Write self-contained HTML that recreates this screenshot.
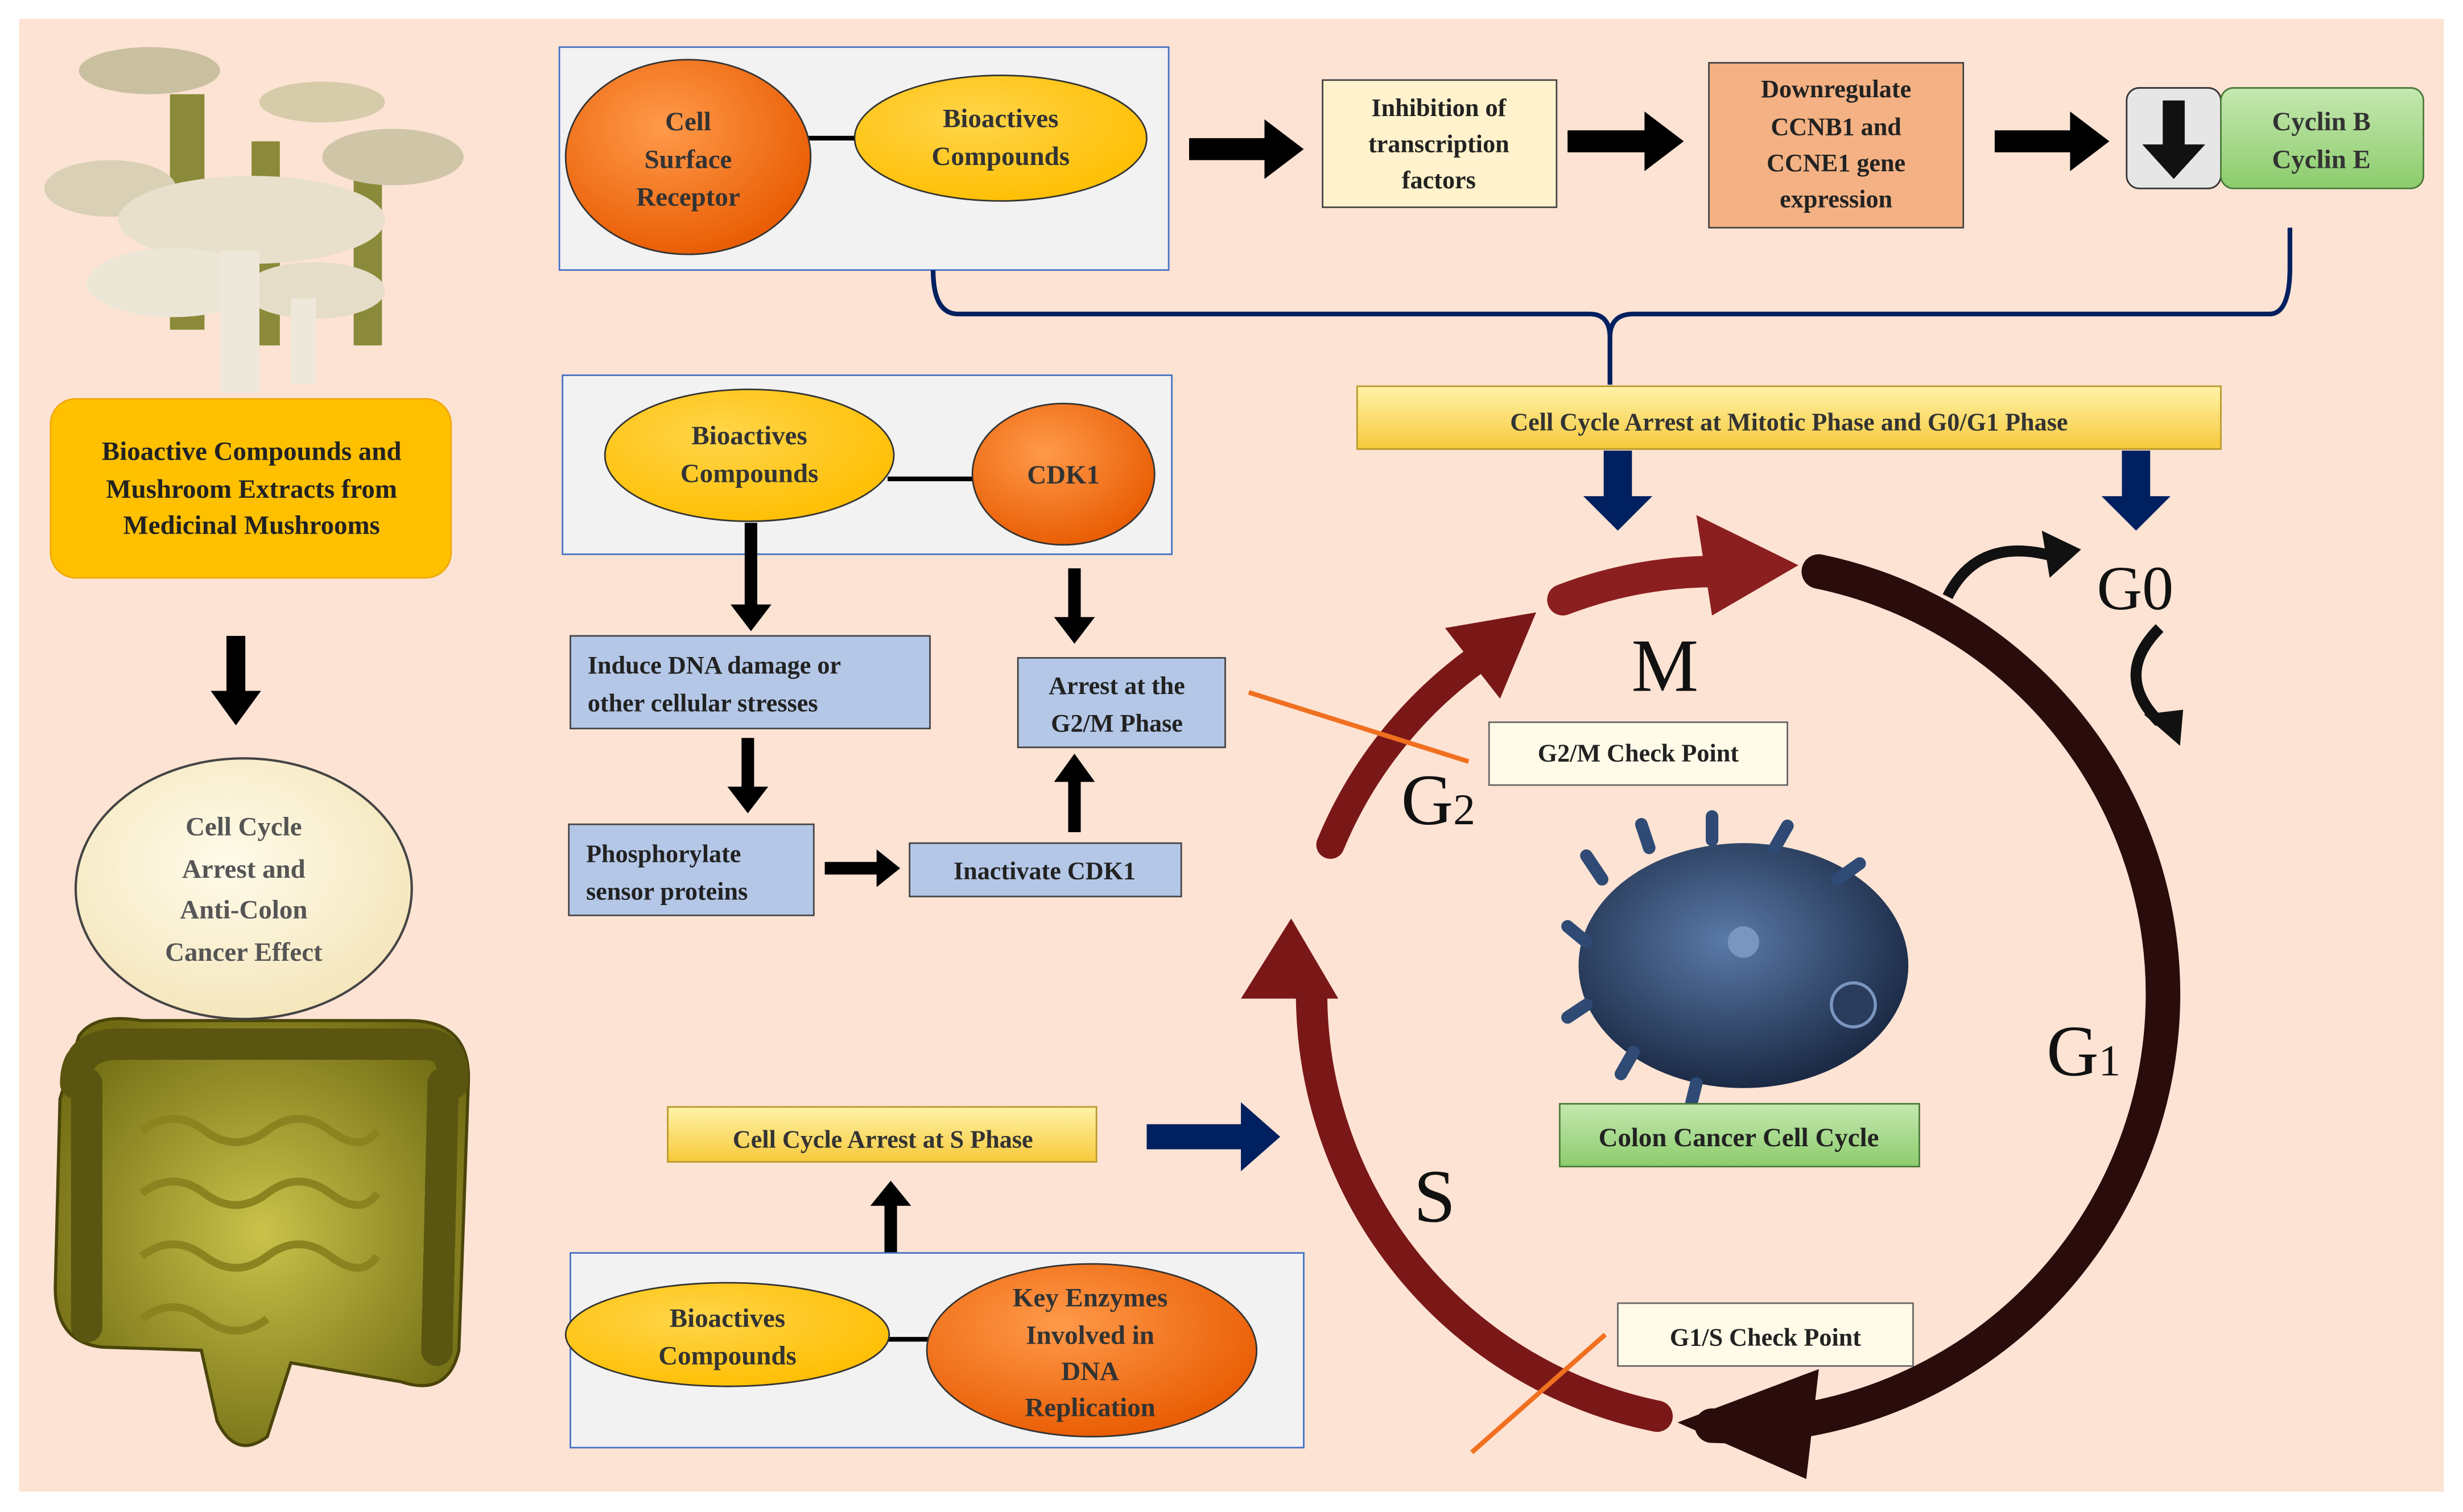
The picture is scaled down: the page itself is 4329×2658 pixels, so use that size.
<!DOCTYPE html>
<html><head><meta charset="utf-8"><style>
html,body{margin:0;padding:0;background:#fff;}
svg{display:block;}
svg text{font-family:"Liberation Serif","DejaVu Serif",serif;font-weight:bold;}
</style></head><body>
<svg width="4329" height="2658" viewBox="0 0 1568 963" xmlns="http://www.w3.org/2000/svg">
<defs>
<radialGradient id="og" cx="40%" cy="35%" r="70%"><stop offset="0" stop-color="#ff9a4a"/><stop offset="1" stop-color="#e85a00"/></radialGradient>
<radialGradient id="yg" cx="40%" cy="35%" r="70%"><stop offset="0" stop-color="#ffd54a"/><stop offset="1" stop-color="#ffbe00"/></radialGradient>
<radialGradient id="cg" cx="45%" cy="40%" r="70%"><stop offset="0" stop-color="#fffbea"/><stop offset="1" stop-color="#f3e3b5"/></radialGradient>
<linearGradient id="bar" x1="0" y1="0" x2="0" y2="1"><stop offset="0" stop-color="#fff3a8"/><stop offset="1" stop-color="#f7c93a"/></linearGradient>
<linearGradient id="grn" x1="0" y1="0" x2="0" y2="1"><stop offset="0" stop-color="#c5e8b0"/><stop offset="1" stop-color="#8ccc6c"/></linearGradient>
<radialGradient id="cell" cx="45%" cy="40%" r="60%"><stop offset="0" stop-color="#5a7aa8"/><stop offset="1" stop-color="#1b2a45"/></radialGradient>
<radialGradient id="gut" cx="50%" cy="50%" r="60%"><stop offset="0" stop-color="#c9c24a"/><stop offset="1" stop-color="#6f6a12"/></radialGradient>
</defs>
<rect x="0" y="0" width="1568" height="963" fill="#fff"/>
<rect x="12" y="12" width="1544" height="938" fill="#fde3d4"/>

<g>
<rect x="108" y="60" width="22" height="150" fill="#8a8a3a"/>
<rect x="160" y="90" width="18" height="130" fill="#8a8a3a"/>
<rect x="225" y="100" width="18" height="120" fill="#8a8a3a"/>
<ellipse cx="95" cy="45" rx="45" ry="15" fill="#c9c0a0"/>
<ellipse cx="205" cy="65" rx="40" ry="13" fill="#d6ccaa"/>
<ellipse cx="250" cy="100" rx="45" ry="18" fill="#cfc6a8"/>
<ellipse cx="70" cy="120" rx="42" ry="18" fill="#d9d0b5"/>
<ellipse cx="160" cy="140" rx="85" ry="28" fill="#e8e0cc"/>
<ellipse cx="110" cy="180" rx="55" ry="22" fill="#ece6d6"/>
<ellipse cx="200" cy="185" rx="45" ry="18" fill="#e5ddc8"/>
<rect x="140" y="160" width="25" height="90" fill="#eee8da"/>
<rect x="185" y="190" width="16" height="55" fill="#eee8da"/>
</g>

<rect x="32" y="254" width="255" height="114" rx="16" fill="#ffc000" stroke="#f0a800"/>
<text font-size="17" fill="#222" text-anchor="middle"><tspan x="160" y="293">Bioactive Compounds  and</tspan><tspan x="160" y="317">Mushroom Extracts from</tspan><tspan x="160" y="340">Medicinal Mushrooms</tspan></text>
<polygon points="144,405 156,405 156,440 166,440 150,462 134,440 144,440" fill="#000"/>

<g>
<path d="M50,660 Q60,645 90,650 L260,650 Q300,650 298,690 L292,860 Q285,890 255,880 L185,868 L170,915 Q150,930 138,905 L128,860 L65,858 Q35,855 35,820 L38,700 Z" fill="url(#gut)" stroke="#4a450a" stroke-width="2"/>
<path d="M48,690 Q48,665 75,665 L270,665 Q290,665 288,690 M55,690 L55,845 M282,690 L278,860" stroke="#5a5510" stroke-width="20" fill="none" stroke-linecap="round" stroke-dasharray="14 4"/>
<path d="M90,720 q20,-15 40,0 t40,0 t40,0 t30,0 M90,760 q20,-15 40,0 t40,0 t40,0 t30,0 M90,800 q20,-15 40,0 t40,0 t40,0 t30,0 M90,840 q20,-15 40,0 t40,0" stroke="#8a8420" stroke-width="5" fill="none"/>
</g>

<ellipse cx="155" cy="566" rx="107" ry="83" fill="url(#cg)" stroke="#444" stroke-width="1.5"/>
<text font-size="17" fill="#555" text-anchor="middle"><tspan x="155" y="532">Cell Cycle</tspan><tspan x="155" y="559">Arrest and</tspan><tspan x="155" y="585">Anti-Colon</tspan><tspan x="155" y="612">Cancer Effect</tspan></text>

<rect x="356" y="30" width="388" height="142" fill="#f2f2f2" stroke="#4472c4" stroke-width="1"/>
<line x1="510" y1="88" x2="550" y2="88" stroke="#000" stroke-width="3"/>
<ellipse cx="438" cy="100" rx="78" ry="62" fill="url(#og)" stroke="#333"/>
<ellipse cx="637" cy="88" rx="93" ry="40" fill="url(#yg)" stroke="#333"/>
<text font-size="17" fill="#333" text-anchor="middle"><tspan x="438" y="83">Cell</tspan><tspan x="438" y="107">Surface</tspan><tspan x="438" y="131">Receptor</tspan></text>
<text font-size="17" fill="#333" text-anchor="middle"><tspan x="637" y="81">Bioactives</tspan><tspan x="637" y="105">Compounds</tspan></text>

<polygon points="757,88 805,88 805,76 830,95 805,114 805,102 757,102" fill="#000"/>
<rect x="842" y="51" width="149" height="81" fill="#fff2cc" stroke="#444"/>
<text font-size="16" fill="#222" text-anchor="middle"><tspan x="916" y="74">Inhibition  of</tspan><tspan x="916" y="97">transcription</tspan><tspan x="916" y="120">factors</tspan></text>
<polygon points="998,83 1047,83 1047,71 1072,90 1047,109 1047,97 998,97" fill="#000"/>
<rect x="1088" y="40" width="162" height="105" fill="#f4b183" stroke="#444"/>
<text font-size="16" fill="#222" text-anchor="middle"><tspan x="1169" y="62">Downregulate</tspan><tspan x="1169" y="86">CCNB1 and</tspan><tspan x="1169" y="109">CCNE1 gene</tspan><tspan x="1169" y="132">expression</tspan></text>
<polygon points="1270,83 1318,83 1318,71 1343,90 1318,109 1318,97 1270,97" fill="#000"/>
<rect x="1354" y="56" width="60" height="64" rx="8" fill="#e7e6e6" stroke="#333"/>
<polygon points="1377,64 1391,64 1391,92 1404,92 1384,114 1364,92 1377,92" fill="#111"/>
<rect x="1414" y="56" width="129" height="64" rx="8" fill="url(#grn)" stroke="#4a7a3a"/>
<text font-size="17" fill="#333" text-anchor="middle"><tspan x="1478" y="83">Cyclin B</tspan><tspan x="1478" y="107">Cyclin E</tspan></text>

<path d="M594,172 Q594,200 610,200 L1012,200 Q1025,200 1025,215 L1025,245 M1025,215 Q1025,200 1040,200 L1445,200 Q1458,200 1458,170 L1458,145" stroke="#002060" stroke-width="3" fill="none"/>

<rect x="864" y="246" width="550" height="40" fill="url(#bar)" stroke="#b89a2a"/>
<text x="1139" y="274" font-size="16" fill="#333" text-anchor="middle">Cell Cycle Arrest at Mitotic Phase and G0/G1 Phase</text>
<polygon points="1021,287 1039,287 1039,316 1052,316 1030,338 1008,316 1021,316" fill="#002060"/>
<polygon points="1351,287 1369,287 1369,316 1382,316 1360,338 1338,316 1351,316" fill="#002060"/>

<rect x="358" y="239" width="388" height="114" fill="#f2f2f2" stroke="#4472c4"/>
<line x1="565" y1="305" x2="622" y2="305" stroke="#000" stroke-width="3"/>
<ellipse cx="477" cy="290" rx="92" ry="42" fill="url(#yg)" stroke="#333"/>
<ellipse cx="677" cy="302" rx="58" ry="45" fill="url(#og)" stroke="#333"/>
<text font-size="17" fill="#333" text-anchor="middle"><tspan x="477" y="283">Bioactives</tspan><tspan x="477" y="307">Compounds</tspan></text>
<text x="677" y="308" font-size="17" fill="#333" text-anchor="middle">CDK1</text>

<polygon points="474,333 482,333 482,385 491,385 478,402 465,385 474,385" fill="#000"/>
<polygon points="680,362 688,362 688,393 697,393 684,410 671,393 680,393" fill="#000"/>
<rect x="363" y="405" width="229" height="59" fill="#b4c7e7" stroke="#444"/>
<text font-size="16" fill="#222"><tspan x="374" y="429">Induce  DNA damage or</tspan><tspan x="374" y="453">other cellular  stresses</tspan></text>
<polygon points="472,470 480,470 480,501 489,501 476,518 463,501 472,501" fill="#000"/>
<rect x="362" y="525" width="156" height="58" fill="#b4c7e7" stroke="#444"/>
<text font-size="16" fill="#222"><tspan x="373" y="549">Phosphorylate</tspan><tspan x="373" y="573">sensor proteins</tspan></text>
<polygon points="525,549 558,549 558,541 573,553 558,565 558,557 525,557" fill="#000"/>
<rect x="579" y="537" width="173" height="34" fill="#b4c7e7" stroke="#444"/>
<text x="665" y="560" font-size="16" fill="#222" text-anchor="middle">Inactivate  CDK1</text>
<polygon points="680,530 688,530 688,498 697,498 684,480 671,498 680,498" fill="#000"/>
<rect x="648" y="419" width="132" height="57" fill="#b4c7e7" stroke="#444"/>
<text font-size="16" fill="#222" text-anchor="middle"><tspan x="711" y="442">Arrest at the</tspan><tspan x="711" y="466">G2/M Phase</tspan></text>

<rect x="425" y="705" width="273" height="35" fill="url(#bar)" stroke="#b89a2a"/>
<text x="562" y="731" font-size="16" fill="#333" text-anchor="middle">Cell Cycle Arrest at S Phase</text>
<polygon points="563,798 571,798 571,768 580,768 567,752 554,768 563,768" fill="#000"/>
<polygon points="730,716 790,716 790,702 815,724 790,746 790,732 730,732" fill="#002060"/>

<rect x="363" y="798" width="467" height="124" fill="#f2f2f2" stroke="#4472c4"/>
<line x1="560" y1="853" x2="600" y2="853" stroke="#000" stroke-width="3"/>
<ellipse cx="463" cy="850" rx="103" ry="33" fill="url(#yg)" stroke="#333"/>
<ellipse cx="695" cy="860" rx="105" ry="55" fill="url(#og)" stroke="#333"/>
<text font-size="17" fill="#333" text-anchor="middle"><tspan x="463" y="845">Bioactives</tspan><tspan x="463" y="869">Compounds</tspan></text>
<text font-size="17" fill="#333" text-anchor="middle"><tspan x="694" y="832">Key Enzymes</tspan><tspan x="694" y="856">Involved in</tspan><tspan x="694" y="879">DNA</tspan><tspan x="694" y="902">Replication</tspan></text>

<path d="M1158,364 A275,275 0 0 1 1090,908" stroke="#2a0c0c" stroke-width="22" fill="none" stroke-linecap="round"/>
<polygon points="1068,906 1158,872 1150,942" fill="#2a0c0c"/>
<path d="M1055,902 A275,275 0 0 1 835,632" stroke="#7a1818" stroke-width="20" fill="none" stroke-linecap="round"/>
<polygon points="822,585 790,636 852,636" fill="#7a1818"/>
<path d="M847,538 A275,275 0 0 1 955,410" stroke="#7a1818" stroke-width="18" fill="none" stroke-linecap="round"/>
<polygon points="978,390 920,400 955,445" fill="#7a1818"/>
<path d="M995,382 A275,275 0 0 1 1095,364" stroke="#8b1f1f" stroke-width="20" fill="none" stroke-linecap="round"/>
<polygon points="1145,360 1080,328 1090,392" fill="#8b1f1f"/>
<path d="M1240,380 Q1260,340 1310,355" stroke="#111" stroke-width="7" fill="none"/>
<polygon points="1325,350 1300,338 1305,368" fill="#111"/>
<path d="M1375,400 Q1345,430 1375,460" stroke="#111" stroke-width="7" fill="none"/>
<polygon points="1388,475 1365,455 1390,452" fill="#111"/>

<text x="1060" y="440" font-size="48" fill="#111" text-anchor="middle" style="font-weight:normal">M</text>
<text x="892" y="525" font-size="46" fill="#111" style="font-weight:normal">G<tspan font-size="28">2</tspan></text>
<text x="900" y="778" font-size="48" fill="#111" style="font-weight:normal">S</text>
<text x="1303" y="685" font-size="46" fill="#111" style="font-weight:normal">G<tspan font-size="28">1</tspan></text>
<text x="1335" y="388" font-size="40" fill="#111" style="font-weight:normal">G0</text>

<line x1="795" y1="441" x2="935" y2="485" stroke="#f07020" stroke-width="3"/>
<line x1="1022" y1="850" x2="937" y2="925" stroke="#f07020" stroke-width="3"/>

<rect x="948" y="460" width="190" height="40" fill="#fffbe8" stroke="#666"/>
<text x="1043" y="485" font-size="16" fill="#222" text-anchor="middle">G2/M Check Point</text>
<rect x="1030" y="830" width="188" height="40" fill="#fffbe8" stroke="#666"/>
<text x="1124" y="857" font-size="16" fill="#222" text-anchor="middle">G1/S Check Point</text>

<ellipse cx="1110" cy="615" rx="105" ry="78" fill="url(#cell)"/>
<g stroke="#2e4a75" stroke-width="8" stroke-linecap="round" fill="none">
<path d="M1010,600 l-12,-10 M1020,560 l-10,-15 M1050,540 l-5,-15 M1090,535 l0,-15 M1130,540 l8,-14 M1170,560 l14,-10 M1010,640 l-12,8 M1040,670 l-8,14 M1080,690 l-3,12"/>
</g>
<circle cx="1180" cy="640" r="14" fill="#2a3c5c" stroke="#7a95c0" stroke-width="2"/>
<circle cx="1110" cy="600" r="10" fill="#7a95c0"/>

<rect x="993" y="703" width="229" height="40" fill="url(#grn)" stroke="#4a7a3a"/>
<text x="1107" y="730" font-size="17" fill="#222" text-anchor="middle">Colon  Cancer  Cell Cycle</text>
</svg>
</body></html>
